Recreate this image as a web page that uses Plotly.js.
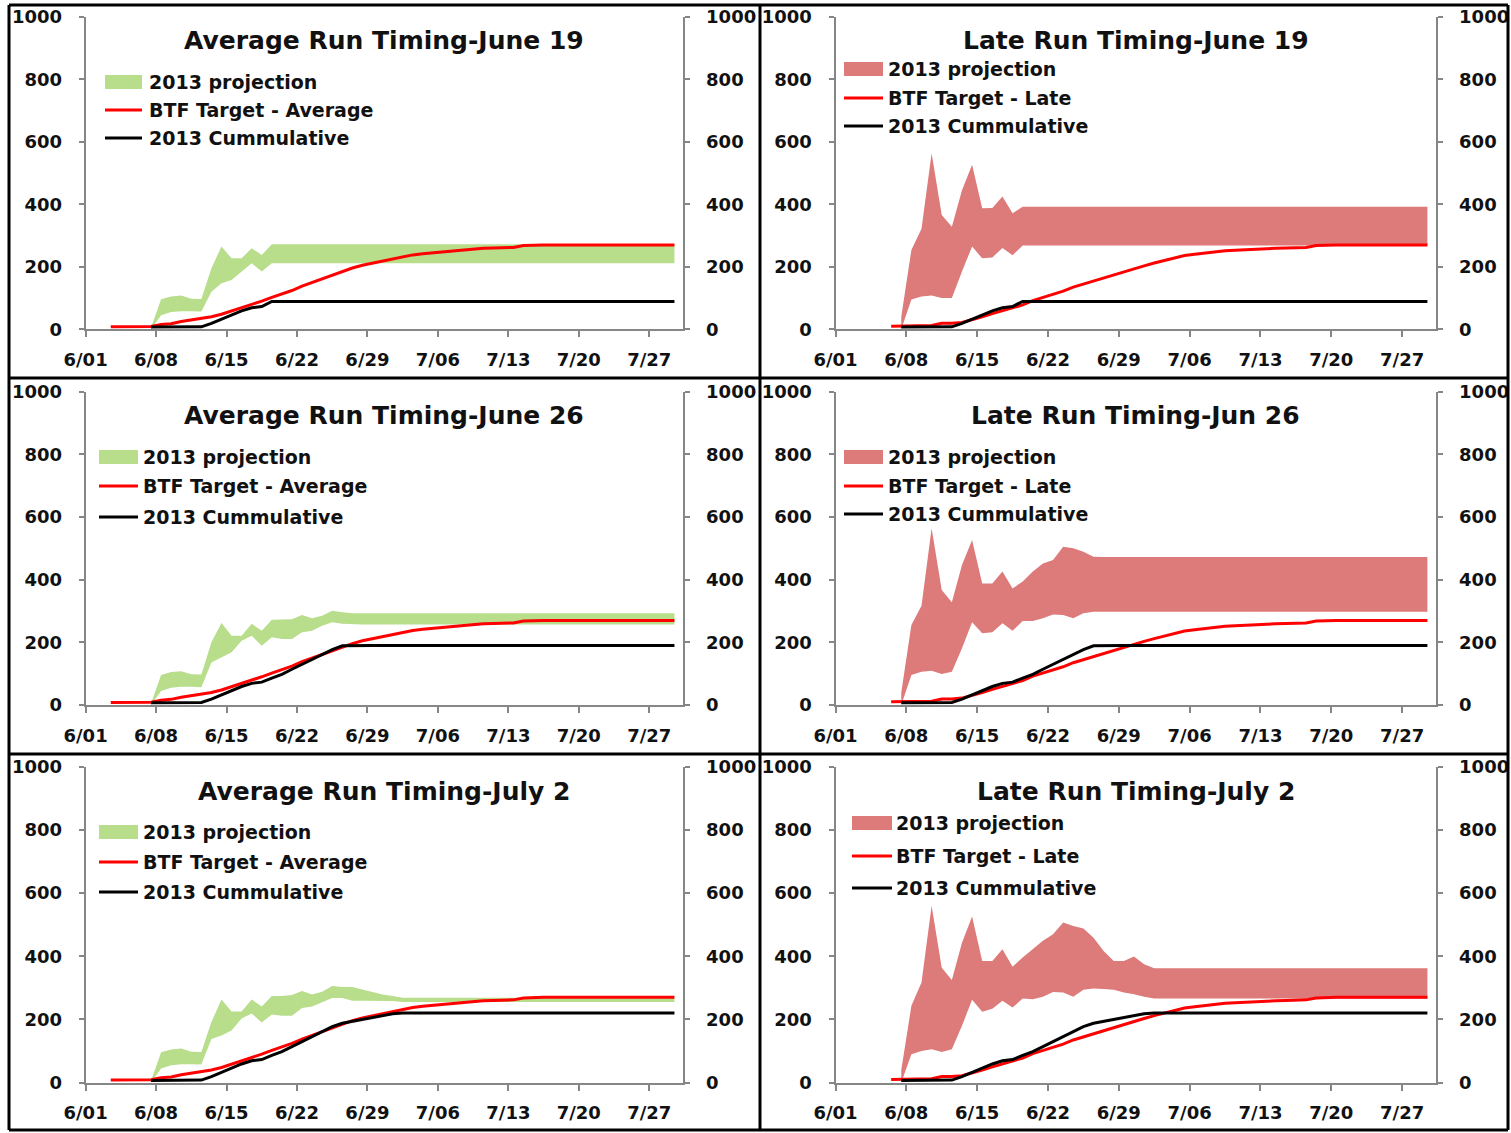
<!DOCTYPE html>
<html><head><meta charset="utf-8">
<script src="https://cdn.plot.ly/plotly-3.0.1.min.js"></script>
<style>html,body{margin:0;padding:0;background:#fff;}#chart{width:1511px;height:1133px;}</style>
</head><body><div id="chart"></div>
<script>
// ---------- categories & tick labels ----------
const dates = [
 '2013-06-01','2013-06-02','2013-06-03','2013-06-04','2013-06-05','2013-06-06','2013-06-07','2013-06-08','2013-06-09','2013-06-10',
 '2013-06-11','2013-06-12','2013-06-13','2013-06-14','2013-06-15','2013-06-16','2013-06-17','2013-06-18','2013-06-19','2013-06-20',
 '2013-06-21','2013-06-22','2013-06-23','2013-06-24','2013-06-25','2013-06-26','2013-06-27','2013-06-28','2013-06-29','2013-06-30',
 '2013-07-01','2013-07-02','2013-07-03','2013-07-04','2013-07-05','2013-07-06','2013-07-07','2013-07-08','2013-07-09','2013-07-10',
 '2013-07-11','2013-07-12','2013-07-13','2013-07-14','2013-07-15','2013-07-16','2013-07-17','2013-07-18','2013-07-19','2013-07-20',
 '2013-07-21','2013-07-22','2013-07-23','2013-07-24','2013-07-25','2013-07-26','2013-07-27','2013-07-28','2013-07-29'];
const tickLabels = ['6/01','6/08','6/15','6/22','6/29','7/06','7/13','7/20','7/27'];
const tickDates = ['2013-05-31 12:00','2013-06-07 12:00','2013-06-14 12:00','2013-06-21 12:00','2013-06-28 12:00',
                   '2013-07-05 12:00','2013-07-12 12:00','2013-07-19 12:00','2013-07-26 12:00'];
const yTicks = [0,200,400,600,800,1000];

// ---------- BTF targets ----------
const btfAverage = [
 null,null,8,8,8,8,9,15,18,25,
 30,36,40,48,58,68,78,90,102,112,
 124,138,150,162,174,186,196,205,212,219,
 226,232,238,242,245,249,252,255,258,259,
 260,261,262,268,270,270,270,270,270,270,
 270,270,270,270,270,270,270,270,270];
const btfLate = [
 null,null,null,null,null,10,10,10,10,12,
 19,19,22,30,40,50,60,68,78,92,
 102,110,122,135,145,155,165,175,185,193,
 203,212,220,228,236,240,244,248,251,253,
 255,257,258,259,260,261,262,268,270,270,
 270,270,270,270,270,270,270,270,270];

// ---------- 2013 cumulative ----------
const cumJun19 = [
 null,null,null,null,null,null,7,7,7,7,
 7,8,19,33,47,59,69,73,89,89,
 89,89,89,89,89,89,89,89,89,89,
 89,89,89,89,89,89,89,89,89,89,
 89,89,89,89,89,89,89,89,89,89,
 89,89,89,89,89,89,89,89,89];
const cumJun26 = [
 null,null,null,null,null,null,7,7,7,7,
 7,8,19,33,47,59,69,73,86,98,
 114,130,147,162,177,189,190,190,190,190,
 190,190,190,190,190,190,190,190,190,190,
 190,190,190,190,190,190,190,190,190,190,
 190,190,190,190,190,190,190,190,190];
const cumJul2 = [
 null,null,null,null,null,null,7,7,7,7,
 7,8,19,33,47,59,69,73,86,98,
 114,130,147,162,177,188,194,200,207,213,
 218,220,220,220,220,220,220,220,220,220,
 220,220,220,220,220,220,220,220,220,220,
 220,220,220,220,220,220,220,220,220];

// ---------- 2013 projection bands (low / high) ----------
const avgJun19Low = [
 null,null,null,null,null,null,0,45,55,58,
 58,57,120,147,158,185,211,185,211,211,
 211,211,211,211,211,211,211,211,211,211,
 211,211,211,211,211,211,211,211,211,211,
 211,211,211,211,211,211,211,211,211,211,
 211,211,211,211,211,211,211,211,211];
const avgJun19High = [
 null,null,null,null,null,null,5,96,105,108,
 98,97,195,265,227,227,259,238,272,272,
 272,272,272,272,272,272,272,272,272,272,
 272,272,272,272,272,272,272,272,272,272,
 272,272,272,272,272,272,272,272,272,272,
 272,272,272,272,272,272,272,272,272];
const avgJun26Low = [
 null,null,null,null,null,null,0,45,55,58,
 58,57,136,152,168,205,221,189,216,211,
 211,232,237,253,264,259,257,257,257,257,
 257,257,257,257,257,257,257,257,257,257,
 257,257,257,257,257,257,257,257,257,257,
 257,257,257,257,257,257,257,257,257];
const avgJun26High = [
 null,null,null,null,null,null,5,96,105,108,
 98,97,200,262,221,221,259,237,272,272,
 274,287,277,285,301,296,293,293,293,293,
 293,293,293,293,293,293,293,293,293,293,
 293,293,293,293,293,293,293,293,293,293,
 293,293,293,293,293,293,293,293,293];
const avgJul2Low = [
 null,null,null,null,null,null,0,45,55,58,
 58,57,138,149,165,203,219,190,216,212,
 212,236,241,255,268,268,259,259,259,259,
 258,255,255,255,255,255,255,255,255,255,
 255,255,255,255,255,255,255,255,255,255,
 255,255,255,255,255,255,255,255,255];
const avgJul2High = [
 null,null,null,null,null,null,5,96,105,108,
 98,97,192,263,225,225,263,241,274,274,
 277,290,279,288,306,303,303,295,288,279,
 274,269,269,269,269,269,269,269,269,269,
 269,269,269,269,269,269,269,269,269,269,
 269,269,269,269,269,269,269,269,269];
const lateJun19Low = [
 null,null,null,null,null,null,0,95,105,108,
 100,100,185,265,227,230,260,237,268,268,
 268,268,268,268,268,268,268,268,268,268,
 268,268,268,268,268,268,268,268,268,268,
 268,268,268,268,268,268,268,268,268,268,
 268,268,268,268,268,268,268,268,268];
const lateJun19High = [
 null,null,null,null,null,null,40,254,322,563,
 366,328,445,526,387,388,425,371,392,392,
 392,392,392,392,392,392,392,392,392,392,
 392,392,392,392,392,392,392,392,392,392,
 392,392,392,392,392,392,392,392,392,392,
 392,392,392,392,392,392,392,392,392];
const lateJun26Low = [
 null,null,null,null,null,null,0,96,106,109,
 99,106,181,264,229,232,261,237,268,268,
 277,289,287,277,293,298,298,298,298,298,
 298,298,298,298,298,298,298,298,298,298,
 298,298,298,298,298,298,298,298,298,298,
 298,298,298,298,298,298,298,298,298];
const lateJun26High = [
 null,null,null,null,null,null,40,255,317,564,
 367,328,447,527,388,388,426,372,394,426,
 452,463,505,500,489,473,472,472,472,472,
 472,472,472,472,472,472,472,472,472,472,
 472,472,472,472,472,472,472,472,472,472,
 472,472,472,472,472,472,472,472,472];
const lateJul2Low = [
 null,null,null,null,null,null,0,90,100,106,
 97,106,180,262,224,234,259,238,266,264,
 272,287,285,272,294,298,296,294,285,280,
 272,266,266,266,266,266,266,266,266,266,
 266,266,266,266,266,266,266,266,266,266,
 266,266,266,266,266,266,266,266,266];
const lateJul2High = [
 null,null,null,null,null,null,40,243,317,560,
 364,325,443,526,385,385,422,367,396,422,
 449,470,507,496,488,459,417,385,385,399,
 375,362,362,362,362,362,362,362,362,362,
 362,362,362,362,362,362,362,362,362,362,
 362,362,362,362,362,362,362,362,362];

const projName = '2013 projection';
const cumName = '2013 Cummulative';

// ---------- panel configuration ----------
const GREEN = '#b8dd8b', PINK = '#dd7a7a';
const panels = [
 {title:'Average Run Timing-June 19', low:avgJun19Low, high:avgJun19High, target:btfAverage, targetName:'BTF Target - Average', cum:cumJun19, band:GREEN,
  col:0,row:0, tY:40, leg:{x0:105,x1:142,tx:147,ys:[82,110,138]}},
 {title:'Late Run Timing-June 19', low:lateJun19Low, high:lateJun19High, target:btfLate, targetName:'BTF Target - Late', cum:cumJun19, band:PINK,
  col:1,row:0, tY:40, leg:{x0:844,x1:883,tx:886,ys:[69,98,126]}},
 {title:'Average Run Timing-June 26', low:avgJun26Low, high:avgJun26High, target:btfAverage, targetName:'BTF Target - Average', cum:cumJun26, band:GREEN,
  col:0,row:1, tY:415, leg:{x0:99,x1:138,tx:141,ys:[457,486,517]}},
 {title:'Late Run Timing-Jun 26', low:lateJun26Low, high:lateJun26High, target:btfLate, targetName:'BTF Target - Late', cum:cumJun26, band:PINK,
  col:1,row:1, tY:415, leg:{x0:844,x1:883,tx:886,ys:[457,486,514]}},
 {title:'Average Run Timing-July 2', low:avgJul2Low, high:avgJul2High, target:btfAverage, targetName:'BTF Target - Average', cum:cumJul2, band:GREEN,
  col:0,row:2, tY:791, leg:{x0:99,x1:138,tx:141,ys:[832,862,892]}},
 {title:'Late Run Timing-July 2', low:lateJul2Low, high:lateJul2High, target:btfLate, targetName:'BTF Target - Late', cum:cumJul2, band:PINK,
  col:1,row:2, tY:791, leg:{x0:852,x1:892,tx:894,ys:[823,856,888]}}
];

[btfAverage,btfLate,cumJun19,cumJun26,cumJul2].concat(panels.map(p=>p.low), panels.map(p=>p.high)).forEach((a,i)=>{
  if (a.length !== dates.length) console.error('length mismatch', i, a.length);
});

// ---------- geometry (pixels) ----------
const W = 1511, H = 1133;
const colX = [[85.6, 682.5],[835.5, 1435.5]];
const rowY = [[16.7, 329.3],[391.7, 705],[766.8, 1082.6]];
const fx = v => v / W, fy = v => 1 - v / H;

const FONT = 'DejaVu Sans';
const TXT = '#111111';
const AX = '#868686';

const data = [], layout = {
  width: W, height: H, margin:{l:0,r:0,t:0,b:0}, showlegend:false,
  paper_bgcolor:'#ffffff', plot_bgcolor:'rgba(0,0,0,0)',
  font:{family:FONT, color:TXT},
  shapes:[], annotations:[]
};

panels.forEach((p, k) => {
  const i = k + 1;
  const xs = i === 1 ? '' : String(i);
  const xa = 'x' + xs, ya = 'y' + xs, ya2 = 'y' + (i + 6);
  const xd = [fx(colX[p.col][0]), fx(colX[p.col][1])];
  const yd = [fy(rowY[p.row][1]), fy(rowY[p.row][0])];

  layout['xaxis' + xs] = {
    domain: xd, anchor: ya, type:'date',
    range:['2013-05-31 12:00','2013-07-29 19:12'],
    tickmode:'array', tickvals: tickDates, ticktext: tickLabels, tickangle:0,
    showline:true, linecolor:AX, linewidth:2, ticks:'outside', ticklen:6, tickwidth:2, tickcolor:AX,
    showgrid:false, zeroline:false, ticklabelstandoff:7,
    tickfont:{family:FONT, size:18, color:TXT, weight:'bold'}, fixedrange:true
  };
  const yBase = {
    domain: yd, anchor: xa, range:[0,1000], tickmode:'array', tickvals: yTicks,
    showline:true, linecolor:AX, linewidth:2, ticks:'outside', ticklen:5, tickwidth:2, tickcolor:AX,
    showgrid:false, zeroline:false, ticklabelstandoff:13,
    tickfont:{family:FONT, size:18, color:TXT, weight:'bold'}, fixedrange:true
  };
  layout['yaxis' + xs] = Object.assign({}, yBase);
  layout['yaxis' + (i + 6)] = Object.assign({}, yBase, {overlaying: ya, side:'right'});

  data.push({x:dates, y:p.low, type:'scatter', mode:'lines', line:{width:0, color:p.band},
             xaxis:xa, yaxis:ya, hoverinfo:'skip', showlegend:false, name:projName + ' (low)'});
  data.push({x:dates, y:p.high, type:'scatter', mode:'lines', line:{width:0, color:p.band},
             fill:'tonexty', fillcolor:p.band, xaxis:xa, yaxis:ya, name:projName});
  data.push({x:dates, y:p.target, type:'scatter', mode:'lines', line:{width:3, color:'#ff0000'},
             xaxis:xa, yaxis:ya, name:p.targetName});
  data.push({x:dates, y:p.cum, type:'scatter', mode:'lines', line:{width:3, color:'#000000'},
             xaxis:xa, yaxis:ya2, name:cumName});

  // title
  layout.annotations.push({
    text:p.title, xref:'paper', yref:'paper',
    x: fx((colX[p.col][0] + colX[p.col][1]) / 2), y: fy(p.tY),
    xanchor:'center', yanchor:'middle', showarrow:false,
    font:{family:FONT, size:25, color:TXT, weight:'bold'}
  });

  // legend (swatch + lines + labels)
  const L = p.leg;
  layout.shapes.push({type:'rect', xref:'paper', yref:'paper', x0:fx(L.x0), x1:fx(L.x1),
    y0:fy(L.ys[0] - 7), y1:fy(L.ys[0] + 7), fillcolor:p.band, line:{width:0}});
  layout.shapes.push({type:'line', xref:'paper', yref:'paper', x0:fx(L.x0), x1:fx(L.x1),
    y0:fy(L.ys[1]), y1:fy(L.ys[1]), line:{color:'#ff0000', width:3}});
  layout.shapes.push({type:'line', xref:'paper', yref:'paper', x0:fx(L.x0), x1:fx(L.x1),
    y0:fy(L.ys[2]), y1:fy(L.ys[2]), line:{color:'#000000', width:3}});
  [projName, p.targetName, cumName].forEach((t, j) => {
    layout.annotations.push({text:t, xref:'paper', yref:'paper', x:fx(L.tx), y:fy(L.ys[j]),
      xanchor:'left', yanchor:'middle', showarrow:false, font:{family:FONT, size:19, color:TXT, weight:'bold'}});
  });
});

// panel frame lines
const frame = [
  [9, 5, 1508, 5], [9, 378, 1508, 378], [9, 754, 1508, 754], [9, 1130, 1508, 1130],
  [9, 5, 9, 1130], [760, 5, 760, 1130], [1508, 5, 1508, 1130]
];
frame.forEach(f => layout.shapes.push({type:'line', xref:'paper', yref:'paper',
  x0:fx(f[0]), y0:fy(f[1]), x1:fx(f[2]), y1:fy(f[3]), line:{color:'#000000', width:3}}));

Plotly.newPlot('chart', data, layout, {staticPlot:true, displayModeBar:false});
</script>
</body></html>
